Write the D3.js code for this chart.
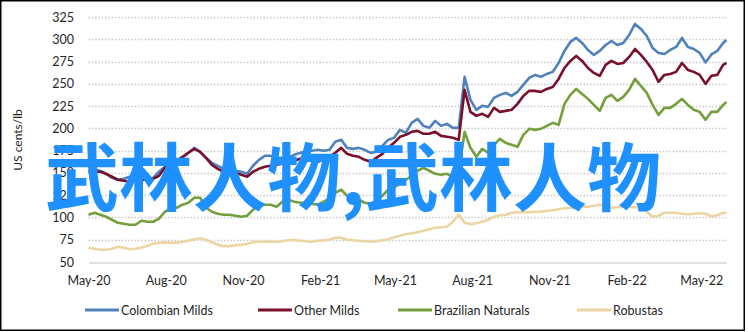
<!DOCTYPE html>
<html><head><meta charset="utf-8">
<script src="https://cdn.jsdelivr.net/npm/d3@7/dist/d3.min.js"></script>
<style>
html,body{margin:0;padding:0;background:#fff;}
svg{display:block;font-family:Lato,"Open Sans",sans-serif;}
</style></head>
<body>
<svg id="chart" width="748" height="332"></svg>
<script>
const dates = [
"2020-05-01","2020-05-08","2020-05-15","2020-05-22","2020-05-29","2020-06-05","2020-06-12","2020-06-19","2020-06-26","2020-07-03",
"2020-07-10","2020-07-17","2020-07-24","2020-07-31","2020-08-07","2020-08-14","2020-08-21","2020-08-28","2020-09-04","2020-09-11",
"2020-09-18","2020-09-25","2020-10-02","2020-10-09","2020-10-16","2020-10-23","2020-10-30","2020-11-06","2020-11-13","2020-11-20",
"2020-11-27","2020-12-04","2020-12-11","2020-12-18","2020-12-25","2021-01-01","2021-01-08","2021-01-15","2021-01-22","2021-01-29",
"2021-02-05","2021-02-12","2021-02-19","2021-02-26","2021-03-05","2021-03-12","2021-03-19","2021-03-26","2021-04-02","2021-04-09",
"2021-04-16","2021-04-23","2021-04-30","2021-05-07","2021-05-14","2021-05-21","2021-05-28","2021-06-04","2021-06-11","2021-06-18",
"2021-06-25","2021-07-02","2021-07-09","2021-07-16","2021-07-23","2021-07-30","2021-08-06","2021-08-13","2021-08-20","2021-08-27",
"2021-09-03","2021-09-10","2021-09-17","2021-09-24","2021-10-01","2021-10-08","2021-10-15","2021-10-22","2021-10-29","2021-11-05",
"2021-11-12","2021-11-19","2021-11-26","2021-12-03","2021-12-10","2021-12-17","2021-12-24","2021-12-31","2022-01-07","2022-01-14",
"2022-01-21","2022-01-28","2022-02-04","2022-02-11","2022-02-18","2022-02-25","2022-03-04","2022-03-11","2022-03-18","2022-03-25",
"2022-04-01","2022-04-08","2022-04-15","2022-04-22","2022-04-29","2022-05-06","2022-05-13","2022-05-20","2022-05-27","2022-05-31"
];

const colombianMilds = [
153.5,153.5,152.4,149.0,144.5,142.3,143.4,145.6,149.0,149.0,
142.3,144.5,151.3,156.9,159.1,163.6,166.9,172.5,178.1,173.7,
166.9,161.3,157.9,154.6,153.5,152.4,151.3,149.0,158.0,164.7,
169.2,169.2,165.8,165.8,166.9,170.3,172.5,173.7,174.8,175.9,
174.8,175.9,184.9,187.1,178.1,177.0,178.1,175.9,172.5,173.7,
180.4,187.1,189.4,198.3,195.0,206.2,210.7,202.8,200.6,208.4,
202.8,205.1,200.6,200.6,257.8,232.0,220.8,225.3,224.1,234.2,
237.6,239.8,236.5,240.9,248.8,256.6,260.0,257.8,261.1,263.4,
273.4,286.9,297.0,301.5,295.9,288.0,282.4,286.9,293.6,298.1,
293.6,295.9,304.8,317.2,311.6,303.7,290.3,284.7,283.5,288.0,
291.4,301.5,291.4,289.1,284.7,274.0,283.0,286.9,295.9,299.2
];

const otherMilds = [
151.3,151.3,151.3,149.0,145.7,142.3,141.2,140.1,141.2,142.3,
142.3,143.4,146.8,155.7,160.2,163.6,168.1,172.6,177.0,173.7,
166.9,159.1,154.6,151.3,150.7,150.1,147.9,145.7,151.3,154.6,
156.9,158.0,159.1,160.2,161.3,163.6,165.8,166.4,164.7,162.5,
164.7,168.1,172.6,178.2,171.4,169.2,168.1,164.7,162.5,166.9,
171.4,178.2,183.8,190.5,192.7,196.1,197.2,193.9,193.9,196.1,
191.6,190.5,189.4,187.1,243.2,218.5,214.0,216.3,212.9,223.0,
218.5,219.6,220.8,227.5,236.4,242.1,242.1,240.9,244.3,246.5,
255.5,267.8,275.7,281.3,275.7,267.8,262.2,258.9,271.2,275.7,
272.3,273.4,280.2,289.1,282.4,274.6,265.6,252.1,260.0,261.1,
263.4,273.4,265.6,263.4,260.0,249.9,259.0,260.0,271.2,273.4
];

const brazilianNaturals = [
103.1,105.3,103.1,100.8,97.4,94.0,92.9,91.8,91.8,96.3,
95.2,95.2,98.6,106.4,109.8,110.9,114.3,116.5,122.1,122.1,
110.9,106.4,104.2,103.1,103.1,101.9,100.8,101.9,108.7,113.2,
114.3,114.3,112.0,117.6,119.9,117.6,116.5,116.5,115.4,114.3,
117.6,121.0,127.7,131.1,124.4,122.1,119.9,116.5,115.4,118.7,
124.4,131.1,133.3,137.8,142.3,146.8,152.4,155.7,152.4,149.0,
147.9,149.0,145.6,150.1,196.1,178.2,168.1,177.0,172.6,181.5,
188.2,183.8,181.5,179.3,192.7,199.5,198.3,199.5,202.8,206.2,
203.9,227.5,237.6,244.3,238.7,233.1,226.3,219.6,234.2,237.6,
230.8,235.3,243.2,255.5,247.7,239.8,226.3,215.2,223.0,223.0,
227.5,233.1,226.3,220.8,218.5,209.6,218.5,218.5,226.3,229.7
];

const robustas = [
66.1,64.9,63.8,63.8,64.9,67.2,66.1,64.4,64.9,66.1,
68.3,70.5,71.7,71.7,71.7,71.7,72.8,73.9,75.6,76.7,
75.0,72.2,69.4,67.8,67.8,68.9,69.4,70.5,72.2,72.8,
72.8,72.8,72.8,73.3,74.5,75.0,73.9,73.3,72.8,73.9,
74.5,75.0,77.3,77.3,75.0,74.5,73.9,73.3,72.8,73.3,
74.5,75.6,77.8,79.5,81.2,82.3,83.4,85.1,86.8,88.5,
89.0,89.6,95.2,103.1,94.1,92.4,93.5,95.2,97.4,100.8,
102.5,103.1,105.3,105.9,105.9,105.9,106.4,106.4,107.5,108.1,
109.2,110.3,110.9,111.5,112.0,112.0,113.1,114.3,112.6,110.9,
111.5,112.0,112.0,111.5,110.9,106.4,100.8,101.9,105.3,105.3,
105.3,104.2,103.6,104.2,104.7,104.2,101.4,102.5,105.3,105.3
];

const seriesNames = ["Colombian Milds","Other Milds","Brazilian Naturals","Robustas"];
const seriesColors = ["#4f81bd","#7a0f2b","#73a03c","#ebd5a3"];
const yTicks = [50,75,100,125,150,175,200,225,250,275,300,325];
const xTickDates = ["2020-05-01","2020-08-01","2020-11-01","2021-02-01","2021-05-01","2021-08-01","2021-11-01","2022-02-01","2022-05-01"];
const yTitle = "US cents/lb";
const watermark = "武林人物,武林人物";

const parse = d3.timeParse("%Y-%m-%d");
const svg = d3.select("#chart");

const x = d3.scaleTime()
  .domain([parse("2020-05-01"), parse("2022-05-31")])
  .range([88.5, 726.5]);
const y = d3.scaleLinear().domain([50, 325]).range([262, 17]);

// frame
svg.append("rect").attr("x",0.75).attr("y",0.75).attr("width",743.5).attr("height",329.5)
  .attr("fill","none").attr("stroke","#000").attr("stroke-width",1.5);

// gridlines
svg.append("g").selectAll("line").data(yTicks.filter(t => t !== 50)).join("line")
  .attr("x1", x.range()[0]).attr("x2", x.range()[1])
  .attr("y1", d => Math.round(y(d)) + 0.5).attr("y2", d => Math.round(y(d)) + 0.5)
  .attr("stroke", "#c9c9c9").attr("stroke-width", 1.3).attr("stroke-dasharray", "1.5,1.8");

// y axis
const yAxis = svg.append("g").attr("transform","translate(74,0)")
  .call(d3.axisLeft(y).tickValues(yTicks).tickSize(0).tickPadding(0));
yAxis.select(".domain").remove();
yAxis.selectAll("text").attr("font-size",12.5).attr("fill","#262626").attr("font-family","Lato,sans-serif");

// x axis
const xAxis = svg.append("g").attr("transform","translate(0,262.5)")
  .call(d3.axisBottom(x).tickValues(xTickDates.map(parse)).tickFormat(d3.timeFormat("%b-%y")).tickSize(0).tickPadding(14));
xAxis.select(".domain").attr("stroke","#d9d9d9").attr("stroke-width",1.3);
xAxis.selectAll("text").attr("font-size",12.5).attr("fill","#262626").attr("font-family","Lato,sans-serif");

// y title
svg.append("text").attr("transform","translate(22,140) rotate(-90)")
  .attr("text-anchor","middle").attr("font-size",12).attr("fill","#262626").text(yTitle);

// lines
const allSeries = [colombianMilds, otherMilds, brazilianNaturals, robustas];
const parsedDates = dates.map(parse);
const line = d3.line().x((d,i) => x(parsedDates[i])).y(d => y(d));
svg.append("g").selectAll("path").data(allSeries).join("path")
  .attr("d", d => line(d))
  .attr("fill","none")
  .attr("stroke",(d,i) => seriesColors[i])
  .attr("stroke-width",2.6)
  .attr("stroke-linejoin","round");

// legend
const legendX = [85, 258, 398, 577];
const lg = svg.append("g").selectAll("g").data(seriesNames).join("g")
  .attr("transform",(d,i) => `translate(${legendX[i]},310)`);
lg.append("line").attr("x1",0).attr("x2",34).attr("y1",0).attr("y2",0)
  .attr("stroke",(d,i) => seriesColors[i]).attr("stroke-width",2.8);
lg.append("text").attr("x",36).attr("y",4.5).attr("font-size",12.5).attr("fill","#262626").text(d => d);

// watermark
svg.append("text").attr("x",45).attr("y",205)
  .attr("font-family","'Noto Sans CJK SC',sans-serif").attr("font-weight","bold")
  .attr("font-size",74).attr("fill","#1e90ff").text(watermark);
</script>
</body></html>
